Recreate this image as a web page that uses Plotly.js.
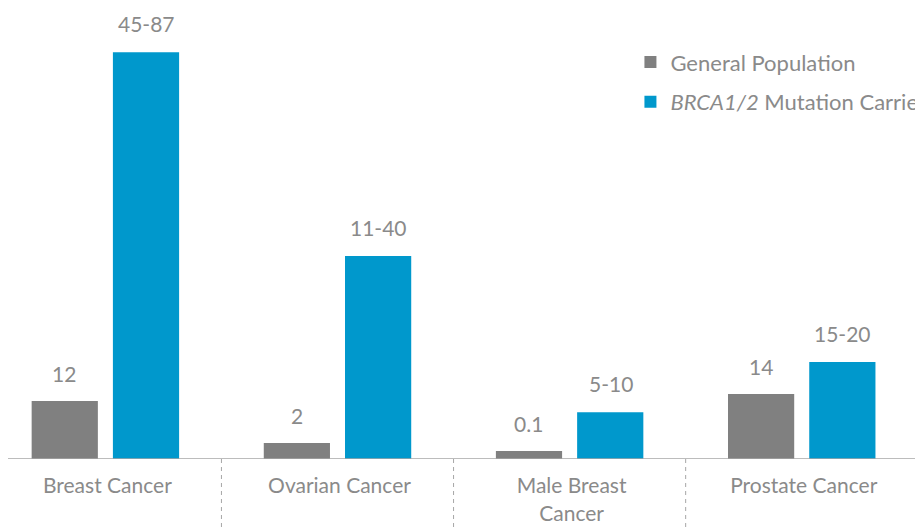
<!DOCTYPE html>
<html>
<head>
<meta charset="utf-8">
<script src="https://cdn.plot.ly/plotly-3.0.1.min.js"></script>
<style>html,body{margin:0;padding:0;background:#fff;}#chart{width:915px;height:529px;overflow:hidden;}</style>
</head>
<body>
<div id="chart"></div>
<script>
// Categories (tick labels)
const categories = ["Breast Cancer", "Ovarian Cancer", "Male Breast<br>Cancer", "Prostate Cancer"];
// Bar heights as drawn in the picture (lifetime risk, %)
const generalHeights = [12, 3.3, 1.65, 13.45];
const carrierHeights = [84.2, 42, 9.7, 20.1];
// Value labels shown above bars
const generalLabels = ["12", "2", "0.1", "14"];
const carrierLabels = ["45-87", "11-40", "5-10", "15-20"];
const seriesNames = ["General Population", "<i>BRCA1/2</i> Mutation Carriers"];

const FONT = "Lato, 'Open Sans', sans-serif";
const TXT = "#8a8a8a";
const GRAY = "#808080";
const BLUE = "#0098cc";

const traces = [
  {type: "bar", name: seriesNames[0], x: categories, y: generalHeights,
   marker: {color: GRAY}, legendgroup: "g", hoverinfo: "none"},
  {type: "bar", name: seriesNames[1], x: categories, y: carrierHeights,
   marker: {color: BLUE}, legendgroup: "c", hoverinfo: "none"}
];

const annotations = [];
categories.forEach((c, i) => {
  annotations.push({x: c, y: generalHeights[i], text: generalLabels[i], showarrow: false,
    xref: "x", yref: "y", yanchor: "bottom", xshift: -41, yshift: 13,
    font: {family: FONT, size: 21, color: TXT}});
  annotations.push({x: c, y: carrierHeights[i], text: carrierLabels[i], showarrow: false,
    xref: "x", yref: "y", yanchor: "bottom", xshift: 41, yshift: 14,
    font: {family: FONT, size: 21, color: TXT}});
});

const shapes = [
  {type: "line", xref: "paper", yref: "y", x0: 8/915, x1: 1, y0: 0, y1: 0,
   line: {color: "#a6a6a6", width: 1.5}}
];
[0.5, 1.5, 2.5].forEach(p => {
  shapes.push({type: "line", xref: "x", yref: "paper", x0: p, x1: p, y0: 0, y1: -70/459,
    line: {color: "#a6a6a6", width: 1, dash: "4px,4px"}});
});

const layout = {
  width: 915, height: 529,
  margin: {l: 0, r: 0, t: 0, b: 70, autoexpand: false},
  paper_bgcolor: "#fff", plot_bgcolor: "#fff",
  barmode: "group", bargap: 0.30, bargroupgap: 0.185,
  font: {family: FONT, color: TXT, size: 20},
  xaxis: {type: "category", range: [-0.454, 3.488], showline: false, showgrid: false,
    zeroline: false, ticks: "outside", ticklen: 8, tickcolor: "rgba(0,0,0,0)",
    ticklabelshift: 2, automargin: false,
    tickfont: {family: FONT, size: 21, color: TXT}, fixedrange: true},
  yaxis: {range: [0, 95], visible: false, showgrid: false, zeroline: false, fixedrange: true, automargin: false},
  showlegend: true,
  legend: {x: 0.689, y: 0.91, xanchor: "left", yanchor: "top",
    traceorder: "grouped", tracegroupgap: 8,
    font: {family: FONT, size: 22, color: TXT}, bgcolor: "rgba(0,0,0,0)"},
  annotations: annotations,
  shapes: shapes
};

Plotly.newPlot("chart", traces, layout, {displayModeBar: false, staticPlot: true});
</script>
</body>
</html>
